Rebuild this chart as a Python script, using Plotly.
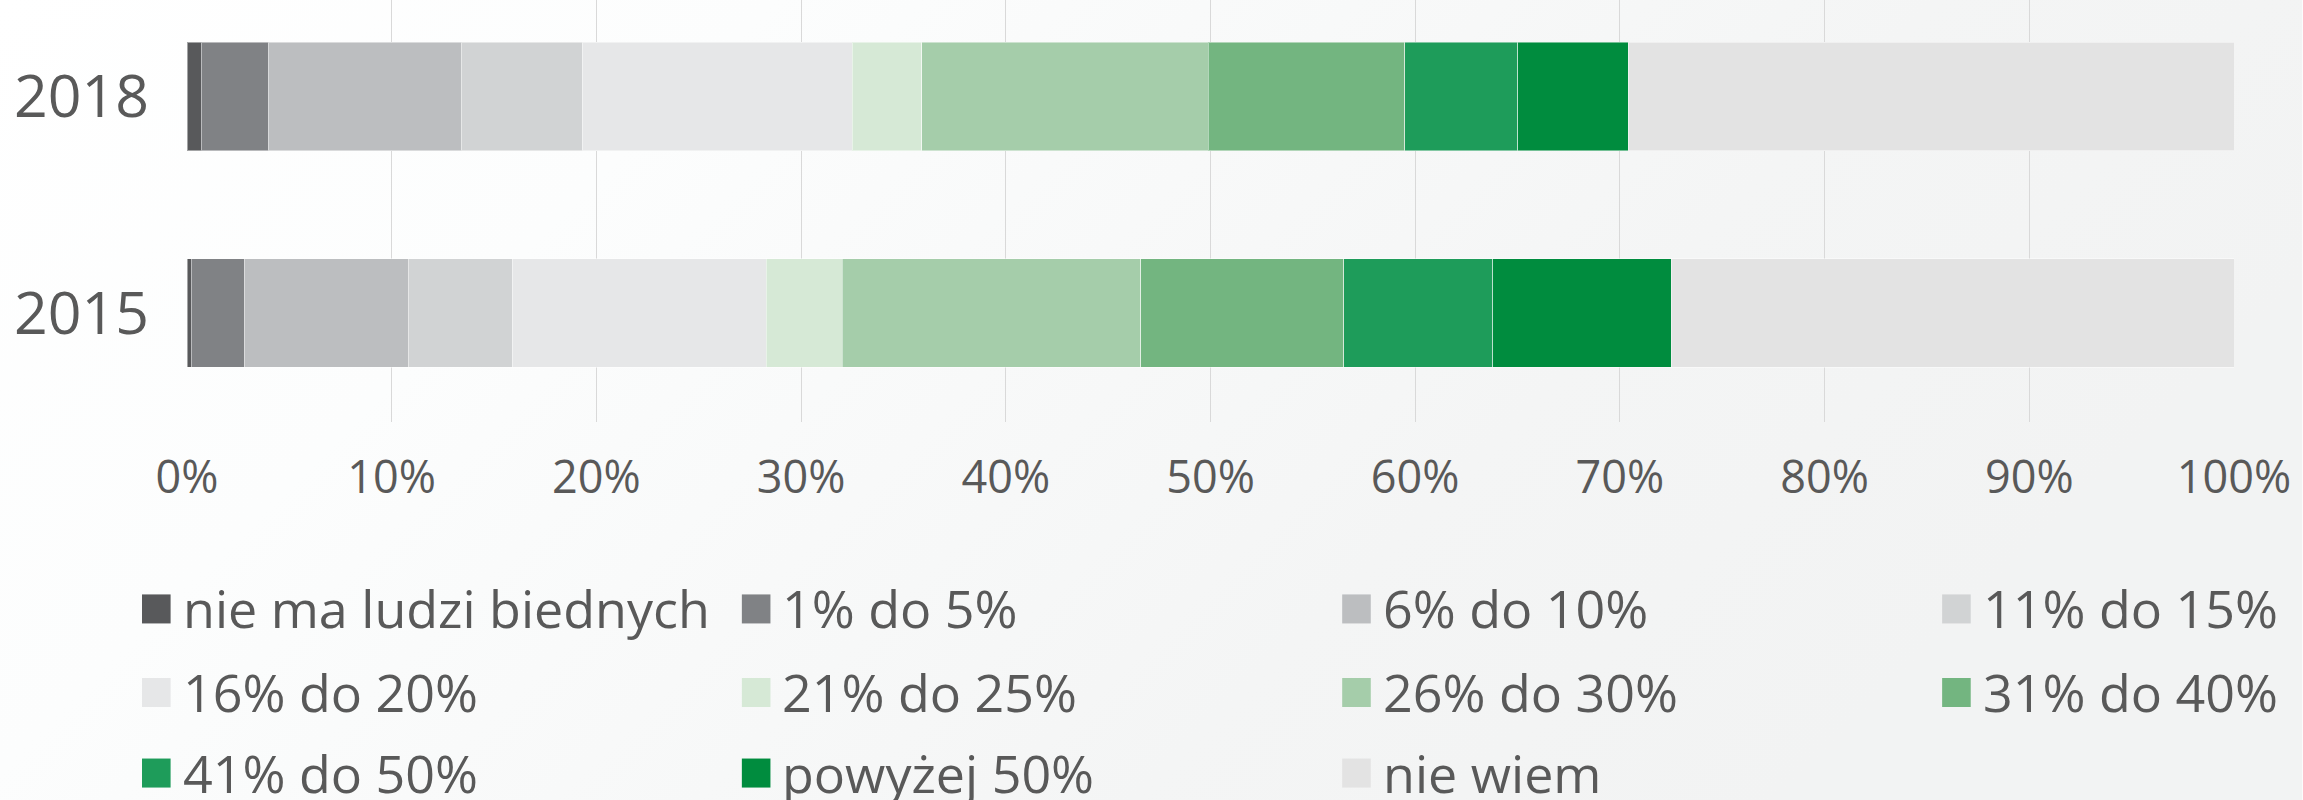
import base64
import plotly.graph_objects as go

# ---------------- data ----------------
years = ["2018", "2015"]
categories = [
    "nie ma ludzi biednych", "1% do 5%", "6% do 10%", "11% do 15%",
    "16% do 20%", "21% do 25%", "26% do 30%", "31% do 40%",
    "41% do 50%", "powyżej 50%", "nie wiem",
]
values_2018 = [0.7, 3.3, 9.4, 5.9, 13.2, 3.4, 14.0, 9.6, 5.5, 5.4, 29.6]
values_2015 = [0.2, 2.6, 8.0, 5.1, 12.4, 3.7, 14.6, 9.9, 7.3, 8.7, 27.5]
colors = [
    "#58595b", "#808285", "#bcbec0", "#d1d3d4", "#e6e7e8",
    "#d6e9d6", "#a5cdaa", "#73b580", "#1e9c5a", "#008c3e", "#e3e3e3",
]
tick_vals = [0, 10, 20, 30, 40, 50, 60, 70, 80, 90, 100]
tick_text = [f"{v}%" for v in tick_vals]

# ---------------- layout geometry ----------------
W, H = 2303, 800
L, R, T, B = 187.3, 2303 - 2234.5, 0, 800 - 421.7
PW, PH = W - L - R, H - T - B
FONT = "Open Sans"
TXT = "#595959"


def px2x(px):
    return (px - L) / PW


def px2y(py):
    return (H - B - py) / PH


fig = go.Figure()
for i, cat in enumerate(categories):
    fig.add_trace(go.Bar(
        y=years,
        x=[values_2018[i], values_2015[i]],
        name=cat,
        orientation="h",
        marker=dict(color=colors[i], line=dict(color="rgba(255,255,255,0.45)", width=1)),
        showlegend=False,
    ))

# background gradient
svg = f'''<svg xmlns="http://www.w3.org/2000/svg" width="{W}" height="{H}" viewBox="0 0 {W} {H}" preserveAspectRatio="none">
<defs><linearGradient id="g" x1="0" y1="0" x2="1" y2="0.35">
<stop offset="0" stop-color="#ffffff"/><stop offset="0.3" stop-color="#fcfdfd"/>
<stop offset="0.75" stop-color="#f4f5f5"/><stop offset="1" stop-color="#f2f3f3"/>
</linearGradient></defs><rect width="{W}" height="{H}" fill="url(#g)"/></svg>'''
src = "data:image/svg+xml;base64," + base64.b64encode(svg.encode()).decode()
fig.add_layout_image(dict(
    source=src, xref="paper", yref="paper",
    x=px2x(0), y=px2y(0), sizex=W / PW, sizey=H / PH,
    xanchor="left", yanchor="top", sizing="stretch", layer="below",
))

# manual legend
col_x = [142.3, 742.2, 1342.6, 1942.6]
row_y = [608.5, 692.0, 772.5]
box_w, box_h = 28.6, 29
shapes = []
annotations = []
for i, cat in enumerate(categories):
    r, c = divmod(i, 4)
    x0 = col_x[c]
    yc = row_y[r]
    shapes.append(dict(
        type="rect", xref="paper", yref="paper",
        x0=px2x(x0), x1=px2x(x0 + box_w),
        y0=px2y(yc + box_h / 2), y1=px2y(yc - box_h / 2),
        fillcolor=colors[i], line=dict(width=0), layer="above",
    ))
    annotations.append(dict(
        text=cat, xref="paper", yref="paper",
        x=px2x(x0 + box_w + 10), y=px2y(yc - 1),
        xanchor="left", yanchor="middle", showarrow=False,
        font=dict(family=FONT, size=52, color=TXT),
    ))

fig.update_layout(
    width=W, height=H,
    margin=dict(l=L, r=R, t=T, b=B, pad=0),
    barmode="stack", bargap=0.5,
    paper_bgcolor="#ffffff", plot_bgcolor="rgba(0,0,0,0)",
    showlegend=False,
    shapes=shapes, annotations=annotations,
    font=dict(family=FONT, color=TXT),
    xaxis=dict(
        range=[0, 100], tickvals=tick_vals, ticktext=tick_text,
        showgrid=True, gridcolor="#d9d9d9", gridwidth=1,
        zeroline=False, showline=False, ticks="",
        tickfont=dict(family=FONT, size=45, color=TXT),
        ticklabelstandoff=25,
    ),
    yaxis=dict(
        type="category", categoryorder="array", categoryarray=["2015", "2018"],
        range=[-0.503, 1.446], showgrid=False, zeroline=False, showline=False,
        ticks="", tickfont=dict(family=FONT, size=59, color=TXT),
        ticklabelstandoff=37,
    ),
)

fig.write_html(
    "out.html",
    config={"displayModeBar": False},
    post_script="document.body.style.margin='0px';document.documentElement.style.overflow='hidden';",
)
